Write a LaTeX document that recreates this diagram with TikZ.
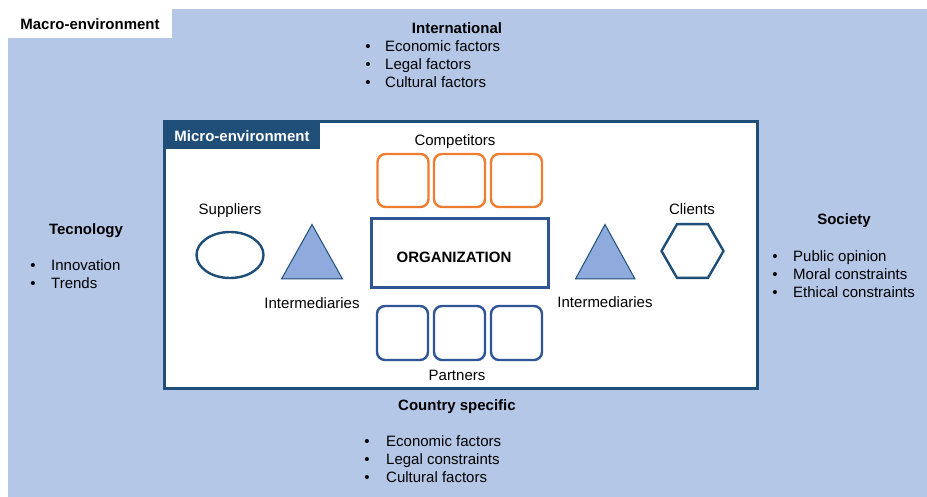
\documentclass[tikz,border=0pt]{standalone}
\usepackage{fontspec}
\setmainfont{Liberation Sans}
\usetikzlibrary{shapes.geometric}
\definecolor{bgblue}{HTML}{B4C7E7}
\definecolor{darkblue}{HTML}{1F4E79}
\definecolor{midblue}{HTML}{2F5597}
\definecolor{orangeb}{HTML}{ED7D31}
\definecolor{trifill}{HTML}{8FAADC}
\begin{document}
\begin{tikzpicture}[x=1pt,y=-1pt,
  every node/.style={font=\fontsize{15}{18}\selectfont, inner sep=0pt, text height=13pt, text depth=0pt},
  bld/.style={font=\fontsize{15}{18}\selectfont\bfseries},
  item/.style={anchor=west},
  orbox/.style={draw=orangeb, line width=2.4pt, rounded corners=8pt, minimum width=51pt, minimum height=53pt},
  pabox/.style={draw=midblue, line width=2.4pt, rounded corners=8pt, minimum width=51pt, minimum height=54pt},
  tri/.style={draw=darkblue, fill=trifill, line width=1pt, line join=miter}
]
\useasboundingbox (0,0) rectangle (927,497);
\fill[white] (0,0) rectangle (927,497);
\fill[bgblue] (8,9) rectangle (927,497);
\node[fill=white, minimum width=164pt, minimum height=29pt, anchor=north west, text height=, text depth=] (macrolbl) at (8,9) {};
\node[bld] (macro) at (90,23) {Macro-environment};

% micro box
\node[draw=darkblue, fill=white, line width=2.6pt, minimum width=593pt, minimum height=267pt, anchor=north west, text height=, text depth=] (micro) at (163,120) {};
\node[fill=darkblue, minimum width=157pt, minimum height=29pt, anchor=north west, text height=, text depth=] (microlblbg) at (163,120) {};
\node[bld, text=white] (microlbl) at (242,135) {Micro-environment};

% competitors
\node (comp) at (455,139) {Competitors};
\node[orbox] (c1) at (403,180.5) {};
\node[orbox] (c2) at (459.5,180.5) {};
\node[orbox] (c3) at (516.5,180.5) {};

% organization
\node[draw=midblue, line width=2.4pt, minimum width=177pt, minimum height=69pt, text height=, text depth=] (org) at (460,253) {};
\node[bld] (orgt) at (454,256) {ORGANIZATION};

% partners
\node[pabox] (p1) at (402.5,333) {};
\node[pabox] (p2) at (459.5,333) {};
\node[pabox] (p3) at (516.5,333) {};
\node (partners) at (457,374) {Partners};

% suppliers
\node (supl) at (230,208) {Suppliers};
\node[draw=darkblue, line width=2.4pt, ellipse, minimum width=67pt, minimum height=46pt, text height=, text depth=] (sup) at (230,255) {};

% intermediaries
\draw[tri] (312,224.5) -- (342.5,279) -- (281.5,279) -- cycle;
\node (int1) at (312,302) {Intermediaries};
\draw[tri] (605,224.5) -- (635,279) -- (575.5,279) -- cycle;
\node (int2) at (605,301) {Intermediaries};

% clients
\node (cli) at (692,208) {Clients};
\coordinate (hexc) at (692.5,251);
\draw[darkblue, line width=2.4pt, line join=miter] (hexc) +(0:31) -- +(60:31) -- +(120:31) -- +(180:31) -- +(240:31) -- +(300:31) -- cycle;

% international
\node[bld] (intl) at (457,27) {International};
\foreach \t/\y [count=\i] in {Economic factors/45, Legal factors/63, Cultural factors/81} {
  \node (ib\i) at (368,\y) {•};
  \node[item] (it\i) at (385,\y) {\t};
}

% country specific
\node[bld] (ctry) at (457,404) {Country specific};
\foreach \t/\y [count=\i] in {Economic factors/440, Legal constraints/458, Cultural factors/476} {
  \node (cb\i) at (367,\y) {•};
  \node[item] (ct\i) at (386,\y) {\t};
}

% technology
\node[bld] (tec) at (86,228) {Tecnology};
\foreach \t/\y [count=\i] in {Innovation/264, Trends/282} {
  \node (tb\i) at (33,\y) {•};
  \node[item] (tt\i) at (51,\y) {\t};
}

% society
\node[bld] (soc) at (844,218.5) {Society};
\foreach \t/\y [count=\i] in {Public opinion/255, Moral constraints/273, Ethical constraints/291} {
  \node (sb\i) at (775,\y) {•};
  \node[item] (st\i) at (793,\y) {\t};
}
\end{tikzpicture}
\end{document}
